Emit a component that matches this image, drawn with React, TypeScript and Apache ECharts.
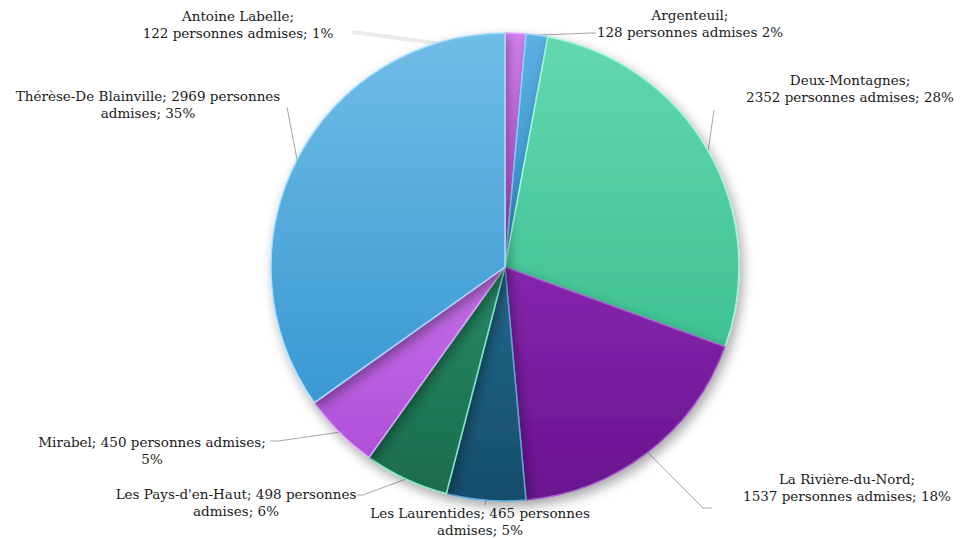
import React, { useEffect, useRef } from "react";
import * as echarts from "echarts";

const regions = [
  "Antoine Labelle",
  "Argenteuil",
  "Deux-Montagnes",
  "La Rivière-du-Nord",
  "Les Laurentides",
  "Les Pays-d'en-Haut",
  "Mirabel",
  "Thérèse-De Blainville",
];
const admitted = [122, 128, 2352, 1537, 465, 498, 450, 2969];

// label text templates (how the original breaks lines)
const templates = [
  "{n};\n{v} personnes admises; {p}%",
  "{n};\n{v} personnes admises {p}%",
  "{n};\n{v} personnes admises; {p}%",
  "{n};\n{v} personnes admises; {p}%",
  "{n}; {v} personnes\nadmises; {p}%",
  "{n}; {v} personnes\nadmises; {p}%",
  "{n}; {v} personnes admises;\n{p}%",
  "{n}; {v} personnes\nadmises; {p}%",
];

const colors = [
  ["#d27ff0", "#b94fd8"],
  ["#5cb0e4", "#2f8dcb"],
  ["#62d8ae", "#3fc293"],
  ["#8526ad", "#69138f"],
  ["#23678a", "#164d6b"],
  ["#268a64", "#1a6c4d"],
  ["#c470e8", "#b050d8"],
  ["#70bde6", "#3a98d3"],
];
const borders = ["#e6a8ff", "#8fd0ff", "#9ff5d8", "#a45cc8", "#5aa7d8", "#7ee8c0", "#e0a0ff", "#a8ddff"];

// label centres
const labelPos = [
  [238, 24],
  [690, 23],
  [850, 88],
  [847, 487],
  [480, 521],
  [236, 502],
  [152, 450],
  [148, 104],
];
// leader-line start overrides / bends / ends (null = automatic)
const lineStart: (number[] | null)[] = [[503, 52], null, null, null, null, null, null, null];
const lineBend: (number[] | null)[] = [
  null,
  [590, 33],
  null,
  [703, 508],
  null,
  [363, 495],
  [278, 441],
  null,
];
const lineEnd = [
  [352, 32],
  [596, 33],
  [714, 110],
  [712, 508],
  [485, 505],
  [357, 495],
  [270, 441],
  [287, 107],
];

export default function App() {
  const ref = useRef<HTMLDivElement>(null);
  useEffect(() => {
    document.body.style.margin = "0";
    const chart = echarts.init(ref.current!, null, { renderer: "svg" });
    const total = admitted.reduce((a, b) => a + b, 0);
    const data = regions.map((n, i) => ({
      name: n,
      value: admitted[i],
      itemStyle: {
        color: new echarts.graphic.LinearGradient(0, 0, 0, 1, [
          { offset: 0, color: colors[i][0] },
          { offset: 1, color: colors[i][1] },
        ]),
        borderColor: borders[i],
      },
      labelLine: i === 0 ? { lineStyle: { color: "#ebebeb", width: 4 } } : undefined,
    }));
    chart.setOption({
      animation: false,
      backgroundColor: "#ffffff",
      series: [
        {
          type: "pie",
          center: [505, 267],
          radius: 234,
          startAngle: 90,
          clockwise: true,
          avoidLabelOverlap: false,
          data,
          itemStyle: {
            borderWidth: 1.5,
            shadowBlur: 12,
            shadowOffsetX: 3,
            shadowOffsetY: 5,
            shadowColor: "rgba(0,0,0,0.35)",
          },
          label: {
            show: true,
            position: "outside",
            fontFamily: "DejaVu Serif",
            fontSize: 13.5,
            lineHeight: 17,
            color: "#1a1a1a",
            align: "center",
            formatter: (p: any) => {
              const i = p.dataIndex;
              const pct = Math.round((admitted[i] / total) * 100);
              return templates[i]
                .replace("{n}", regions[i])
                .replace("{v}", String(admitted[i]))
                .replace("{p}", String(pct));
            },
          },
          labelLine: {
            show: true,
            length: 20,
            length2: 10,
            lineStyle: { color: "#a6a6a6", width: 1 },
          },
          labelLayout: (params: any) => {
            const i = params.dataIndex;
            const pos = labelPos[i];
            const res: any = { x: pos[0], y: pos[1], align: "center", verticalAlign: "middle" };
            const pts = params.labelLinePoints;
            if (pts && pts.length) {
              const start = lineStart[i] || pts[0];
              const b = lineBend[i];
              res.labelLinePoints = b
                ? [start, b, lineEnd[i]]
                : [start, [(start[0] + lineEnd[i][0]) / 2, (start[1] + lineEnd[i][1]) / 2], lineEnd[i]];
            }
            return res;
          },
        },
      ],
    });
    return () => chart.dispose();
  }, []);
  return <div ref={ref} style={{ width: 961, height: 538 }} />;
}
